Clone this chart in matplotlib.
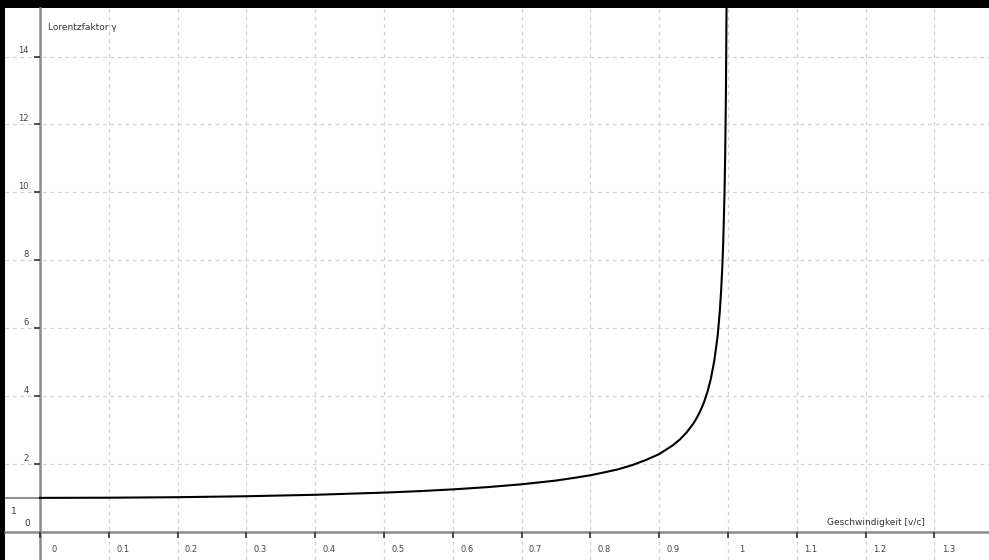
import numpy as np
import matplotlib
matplotlib.use("Agg")
import matplotlib.pyplot as plt

# speed as fraction of c, and the Lorentz factor
v = [0.0, 0.1, 0.2, 0.3, 0.4, 0.5, 0.55, 0.6, 0.65, 0.7, 0.75, 0.78, 0.8,
     0.82, 0.84, 0.86, 0.88, 0.9, 0.91, 0.92, 0.93, 0.94, 0.95, 0.955,
     0.96, 0.965, 0.97, 0.975, 0.98, 0.983, 0.985, 0.988, 0.99, 0.992,
     0.993, 0.995, 0.996, 0.997, 0.998]
gamma = [1.0, 1.005, 1.02, 1.048, 1.091, 1.155, 1.197, 1.25, 1.316, 1.40,
         1.51, 1.60, 1.667, 1.75, 1.84, 1.96, 2.11, 2.29, 2.42, 2.55, 2.72,
         2.93, 3.20, 3.37, 3.57, 3.81, 4.11, 4.50, 5.03, 5.47, 5.78, 6.47,
         7.09, 7.92, 8.47, 10.01, 11.19, 12.9, 15.8]

# part left of the y axis (drawn grey)
v_neg = [-0.06, 0.0]
gamma_neg = [1.0, 1.0]

x_ticks = [0, 0.1, 0.2, 0.3, 0.4, 0.5, 0.6, 0.7, 0.8, 0.9, 1, 1.1, 1.2, 1.3]
x_tick_labels = ["0", "0.1", "0.2", "0.3", "0.4", "0.5", "0.6", "0.7",
                 "0.8", "0.9", "1", "1.1", "1.2", "1.3"]
y_ticks = [2, 4, 6, 8, 10, 12, 14]
y_tick_labels = ["2", "4", "6", "8", "10", "12", "14"]

x_label = "Geschwindigkeit [v/c]"
y_label = "Lorentzfaktor \u03b3"

W, H = 989, 560
fig = plt.figure(figsize=(W / 100, H / 100), dpi=100, facecolor="black")
ax = fig.add_axes([5 / W, 0, (W - 5) / W, (H - 8) / H])
ax.set_facecolor("white")

ax.set_xlim(-0.0509, 1.3794)
ax.set_ylim(-0.83, 15.43)

# dashed grid
for xt in np.arange(0.1, 1.4, 0.1):
    ax.axvline(xt, color="#d2d2d2", lw=0.9, ls=(0, (3, 3)), zorder=0)
for yt in y_ticks:
    ax.axhline(yt, color="#d2d2d2", lw=0.9, ls=(0, (3, 3)), zorder=0)

# axes through the origin
for s in ["top", "right"]:
    ax.spines[s].set_visible(False)
ax.spines["left"].set_position(("data", 0))
ax.spines["bottom"].set_position(("data", 0))
for s in ["left", "bottom"]:
    ax.spines[s].set_color("#8a8a8a")
    ax.spines[s].set_linewidth(1.8)
    ax.spines[s].set_zorder(1)

ax.set_xticks(x_ticks)
ax.set_yticks(y_ticks)
ax.set_xticklabels([])
ax.set_yticklabels([])
ax.tick_params(axis="x", direction="out", length=4, width=1.2, color="#333333")
ax.tick_params(axis="y", direction="out", length=4, width=1.2, color="#333333")

for xt, lab in zip(x_ticks, x_tick_labels):
    ax.annotate(lab, (xt, 0), xytext=(10, -13), textcoords="offset points",
                ha="center", va="center", fontsize=6, color="#444444")
for yt, lab in zip(y_ticks, y_tick_labels):
    ax.annotate(lab, (0, yt), xytext=(-8, 4), textcoords="offset points",
                ha="right", va="center", fontsize=6, color="#444444")
ax.annotate("0", (0, 0), xytext=(-7, 6), textcoords="offset points",
            ha="right", va="center", fontsize=6.5, color="#333333")
ax.annotate("1", (0, 1), xytext=(-19, -10), textcoords="offset points",
            ha="center", va="center", fontsize=6.5, color="#333333")

ax.annotate(y_label, (0, 15.43), xytext=(6, -14), textcoords="offset points",
            ha="left", va="center", fontsize=6.5, color="#333333")
ax.annotate(x_label, (1.38, 0), xytext=(-117, 7), textcoords="offset points",
            ha="left", va="center", fontsize=6.5, color="#333333")

ax.plot(v_neg, gamma_neg, color="#909090", lw=1.5, zorder=3)
ax.plot(v, gamma, color="black", lw=1.5, zorder=3)

fig.savefig("out.png", dpi=100, facecolor=fig.get_facecolor())
